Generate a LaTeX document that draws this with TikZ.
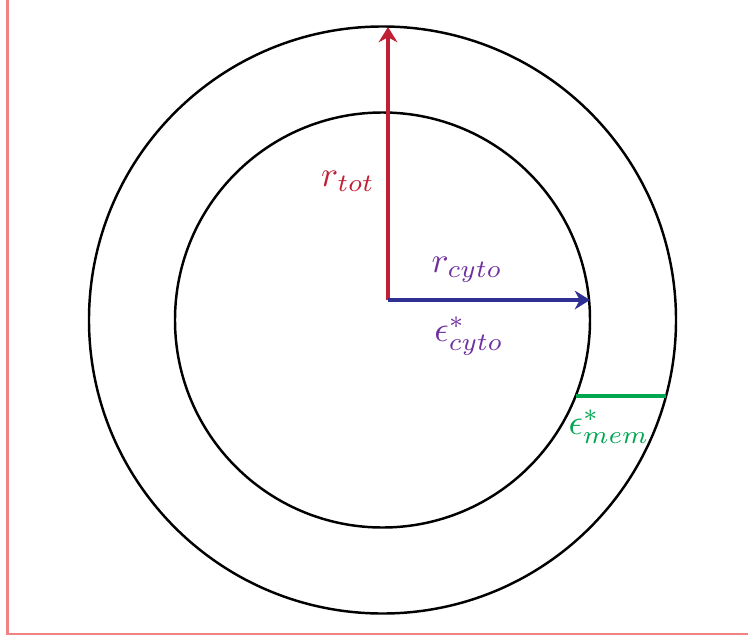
\documentclass[tikz,border=0pt]{standalone}
\usepackage{xcolor}
\usepackage{tikz}
\usetikzlibrary{arrows.meta}

\definecolor{totred}{RGB}{192,32,52}
\definecolor{cytoblue}{RGB}{46,49,146}
\definecolor{cytopurple}{RGB}{112,48,160}
\definecolor{memgreen}{RGB}{0,166,80}
\definecolor{framepink}{RGB}{240,130,130}

\newcommand{\biglabel}[1]{\scalebox{3.05}{$#1$}}

\begin{document}
\begin{tikzpicture}[
x=0.03cm, y=-0.03cm,
>={Stealth[length=13pt,width=16pt]},
ring/.style={circle,draw,line width=2.1pt,inner sep=0pt},
radius/.style={->,line width=3.4pt}
]
\useasboundingbox (0,0) rectangle (748,640);

% Frame
\draw[framepink,line width=2.5pt] (7.5,0) -- (7.5,634) -- (748,634);

% Cell rings
\node[ring,minimum size=17.61cm] (outer) at (382.5,320) {};
\node[ring,minimum size=12.45cm] (inner) at (382.5,320) {};

% End points
\coordinate (o) at (388,300);
\coordinate (top) at (388,27);
\coordinate (right) at (590,300);
\coordinate (memin) at (576,396);
\coordinate (memout) at (666,396);

% Radii
\draw[radius,totred] (o) -- (top);
\draw[radius,cytoblue] (o) -- (right);

% Membrane
\draw[memgreen,line width=3.4pt] (memin) -- (memout);

% Labels
\node[text=totred] (rtot) at (348,181) {\biglabel{r_{tot}}};
\node[text=cytopurple] (rcyto) at (467,270) {\biglabel{r_{cyto}}};
\node[text=cytopurple] (ecyto) at (469,336) {\biglabel{\epsilon^*_{cyto}}};
\node[text=memgreen] (emem) at (609,427) {\biglabel{\epsilon^*_{mem}}};

\end{tikzpicture}
\end{document}
